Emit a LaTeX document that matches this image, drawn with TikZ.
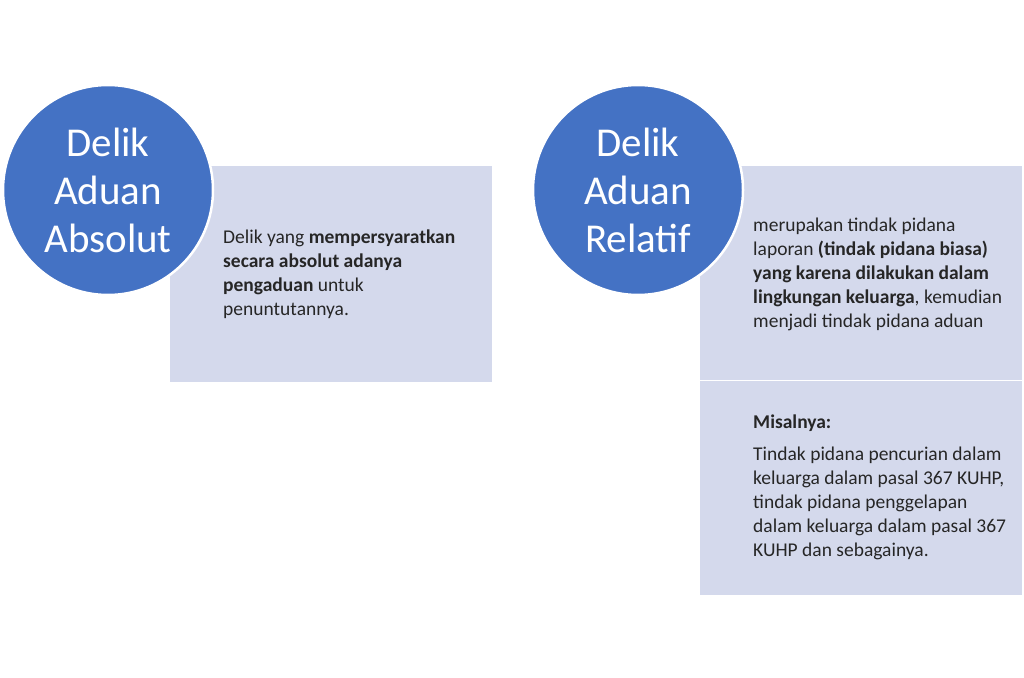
\documentclass[tikz,border=0pt]{standalone}
\usepackage{fontspec}
\setmainfont{Carlito}
\usetikzlibrary{positioning}
\definecolor{circblue}{HTML}{4472C4}
\definecolor{boxfill}{HTML}{D4D9EC}
\definecolor{txtgray}{HTML}{262626}

\begin{document}
\begin{tikzpicture}[x=1pt,y=-1pt,
		circ/.style={circle,fill=circblue,draw=white,line width=2.5pt,minimum size=210pt,inner sep=0pt,text=white,align=center,font=\fontsize{41}{48}\selectfont},
		card/.style={fill=boxfill,draw=none,minimum width=322pt,inner sep=0pt,anchor=north west},
		body/.style={anchor=north west,align=left,text=txtgray,inner sep=0pt,font=\fontsize{19.5}{24}\selectfont}]
		\useasboundingbox (0,0) rectangle (1024,677);
		%
		\node[card,minimum height=216pt] (c1) at (170,166) {};
		\node[card,minimum height=214pt] (c2) at (700,166) {};
		\node[card,minimum height=214pt,below=0.6pt of c2] (c3) {};
		%
		\node[circ] (a1) at (108,190) {Delik\\Aduan\\Absolut};
		\node[circ] (a2) at (638,190) {Delik\\Aduan\\Relatif};
		%
		\node[body] (t1) at (223,230) {Delik yang \textbf{mempersyaratkan}\\
			\textbf{secara absolut adanya}\\
			\textbf{pengaduan} untuk\\
			penuntutannya.};
		\node[body] (t2) at (753,218) {merupakan tindak pidana\\
			laporan \textbf{(tindak pidana biasa)}\\
			\textbf{yang karena dilakukan dalam}\\
			\textbf{lingkungan keluarga}, kemudian\\
			menjadi tindak pidana aduan};
		\node[body] (t3) at (753,415) {\textbf{Misalnya:}\\[8pt]
			Tindak pidana pencurian dalam\\
			keluarga dalam pasal 367 KUHP,\\
			tindak pidana penggelapan\\
			dalam keluarga dalam pasal 367\\
			KUHP dan sebagainya.};
	\end{tikzpicture}
\end{document}
